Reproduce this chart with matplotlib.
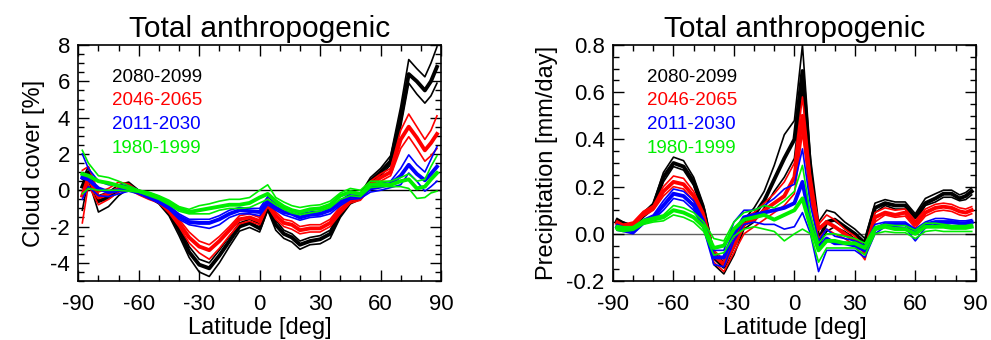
import matplotlib
matplotlib.use("Agg")
import matplotlib.pyplot as plt
from matplotlib.ticker import MultipleLocator, FormatStrFormatter

plt.rcParams['font.family'] = ['Liberation Sans', 'DejaVu Sans']
plt.rcParams['axes.unicode_minus'] = False

# ---------------- data ----------------
lat = [-88, -85, -80, -75, -70, -65, -60, -55, -50, -45, -40, -35, -30, -25, -20, -15, -10, -5, 0,
       4, 8, 12, 16, 20, 25, 30, 35, 40, 45, 50, 55, 60, 65, 70, 74, 78, 82, 85, 88]

periods = ["2080-2099", "2046-2065", "2011-2030", "1980-1999"]
colors = ["black", "#ff0000", "#0000ff", "#00ee00"]

# Cloud cover change [%]
cc_k_mid = [0.2, 1.0, -0.6, -0.4, 0.0, 0.3, -0.1, -0.3, -0.6, -1.2, -2.2, -3.4, -4.1, -4.3, -3.6, -2.8, -2.0, -1.8, -2.1,
            -0.9, -1.9, -2.4, -2.6, -3.0, -2.8, -2.7, -2.4, -1.3, -0.6, -0.35, 0.5, 1.0, 1.6, 4.0, 6.4, 6.0, 5.5, 6.0, 6.8]
cc_k_hi = [0.6, 1.3, -0.3, -0.1, 0.3, 0.45, 0.0, -0.2, -0.45, -1.0, -1.9, -3.1, -3.8, -4.0, -3.3, -2.55, -1.8, -1.6, -1.85,
           -0.7, -1.65, -2.2, -2.4, -2.8, -2.6, -2.5, -2.2, -1.1, -0.45, -0.2, 0.7, 1.2, 1.9, 4.6, 7.2, 6.7, 6.25, 7.0, 7.9]
cc_k_lo = [-1.1, 0.6, -1.2, -0.9, -0.3, 0.1, -0.2, -0.4, -0.75, -1.4, -2.5, -3.7, -4.5, -4.75, -4.0, -3.1, -2.25, -2.05, -2.3,
           -1.1, -2.2, -2.65, -2.85, -3.25, -3.0, -2.95, -2.65, -1.5, -0.75, -0.5, 0.3, 0.8, 1.4, 3.5, 5.9, 5.3, 4.8, 5.2, 5.9]

cc_r_mid = [-0.3, 0.7, -0.4, -0.2, 0.1, 0.2, -0.15, -0.4, -0.6, -1.1, -1.8, -2.6, -3.1, -3.3, -2.8, -2.2, -1.6, -1.5, -1.7,
            -0.7, -1.4, -1.8, -1.9, -2.2, -2.1, -2.1, -1.8, -1.1, -0.55, -0.4, 0.3, 0.7, 1.0, 2.8, 3.5, 2.9, 2.2, 2.6, 3.1]
cc_r_hi = [1.1, 1.3, -0.1, 0.1, 0.45, 0.35, -0.05, -0.3, -0.5, -1.0, -1.6, -2.3, -2.8, -3.0, -2.55, -2.0, -1.4, -1.3, -1.5,
           -0.45, -1.2, -1.6, -1.7, -2.0, -1.9, -1.9, -1.6, -0.9, -0.4, -0.25, 0.5, 0.9, 1.2, 3.3, 4.2, 3.5, 2.8, 3.3, 4.1]
cc_r_lo = [-1.8, 0.3, -0.8, -0.5, -0.1, 0.05, -0.25, -0.5, -0.7, -1.25, -2.0, -2.9, -3.45, -3.8, -3.2, -2.5, -1.85, -1.7, -1.9,
           -0.9, -1.6, -2.0, -2.15, -2.4, -2.3, -2.3, -2.0, -1.3, -0.7, -0.55, 0.1, 0.5, 0.8, 2.3, 2.95, 2.3, 1.6, 1.9, 2.3]

cc_b_mid = [0.7, 0.6, 0.1, -0.1, 0.0, 0.1, -0.1, -0.35, -0.6, -0.95, -1.45, -1.75, -1.8, -1.8, -1.6, -1.3, -1.1, -1.15, -1.2,
            -0.6, -0.95, -1.2, -1.3, -1.5, -1.35, -1.3, -1.1, -0.7, -0.35, -0.3, 0.1, 0.2, 0.35, 0.8, 1.4, 0.9, 0.55, 0.9, 1.3]
cc_b_hi = [2.0, 1.2, 0.5, 0.3, 0.3, 0.25, 0.0, -0.25, -0.5, -0.85, -1.3, -1.6, -1.6, -1.6, -1.4, -1.1, -0.95, -1.0, -1.0,
           -0.35, -0.75, -1.0, -1.1, -1.3, -1.2, -1.15, -0.95, -0.55, -0.2, -0.15, 0.3, 0.4, 0.5, 1.2, 1.95, 1.4, 1.0, 1.7, 2.4]
cc_b_lo = [-0.5, 0.2, -0.3, -0.35, -0.2, -0.05, -0.2, -0.45, -0.7, -1.05, -1.6, -1.9, -2.0, -2.1, -1.9, -1.5, -1.3, -1.3, -1.4,
           -0.8, -1.1, -1.35, -1.5, -1.65, -1.5, -1.45, -1.3, -0.85, -0.5, -0.45, -0.1, 0.0, 0.15, 0.3, 0.95, 0.5, -0.05, 0.2, 0.5]

cc_g_mid = [0.9, 0.8, 0.5, 0.4, 0.25, 0.1, -0.05, -0.2, -0.4, -0.7, -1.0, -1.2, -1.1, -1.0, -0.9, -0.8, -0.8, -0.7, -0.4,
            -0.2, -0.6, -0.9, -1.1, -1.2, -1.05, -1.0, -0.8, -0.3, -0.1, -0.2, 0.3, 0.35, 0.3, 0.5, 0.6, 0.1, 0.2, 0.6, 0.95]
cc_g_hi = [2.2, 1.5, 0.8, 0.7, 0.5, 0.25, 0.0, -0.1, -0.3, -0.55, -0.9, -1.05, -0.85, -0.75, -0.6, -0.5, -0.5, -0.4, 0.0,
           0.3, -0.4, -0.65, -0.85, -0.95, -0.85, -0.8, -0.6, -0.15, 0.1, 0.0, 0.5, 0.5, 0.5, 0.7, 0.9, 0.5, 0.6, 1.3, 1.9]
cc_g_lo = [-0.2, 0.1, 0.0, 0.0, 0.0, -0.05, -0.1, -0.3, -0.5, -0.8, -1.15, -1.3, -1.3, -1.3, -1.1, -1.0, -1.0, -0.95, -0.7,
           -0.5, -0.8, -1.05, -1.25, -1.35, -1.25, -1.15, -0.95, -0.5, -0.3, -0.35, 0.15, 0.2, 0.2, 0.2, 0.1, -0.45, -0.4, -0.15, -0.05]

# Precipitation change [mm/day]
pr_k_mid = [0.055, 0.045, 0.03, 0.08, 0.12, 0.24, 0.30, 0.285, 0.22, 0.10, -0.10, -0.14, -0.05, 0.04, 0.08, 0.14, 0.23, 0.32, 0.40,
            0.69, 0.26, -0.03, 0.05, 0.06, 0.03, 0.0, -0.04, 0.11, 0.13, 0.12, 0.12, 0.07, 0.13, 0.15, 0.17, 0.17, 0.15, 0.16, 0.18]
pr_k_hi = [0.065, 0.05, 0.035, 0.09, 0.13, 0.26, 0.325, 0.31, 0.24, 0.12, -0.08, -0.12, -0.03, 0.06, 0.11, 0.18, 0.29, 0.42, 0.48,
           0.80, 0.32, 0.05, 0.10, 0.09, 0.05, 0.02, -0.02, 0.13, 0.145, 0.135, 0.135, 0.085, 0.15, 0.17, 0.185, 0.185, 0.165, 0.175, 0.195]
pr_k_lo = [0.045, 0.035, 0.025, 0.07, 0.105, 0.22, 0.285, 0.27, 0.205, 0.08, -0.13, -0.17, -0.09, 0.02, 0.05, 0.11, 0.18, 0.24, 0.32,
           0.62, 0.20, -0.05, 0.01, 0.03, 0.01, -0.02, -0.06, 0.09, 0.12, 0.105, 0.105, 0.05, 0.12, 0.135, 0.155, 0.155, 0.14, 0.145, 0.165]

pr_r_mid = [0.045, 0.035, 0.04, 0.085, 0.11, 0.18, 0.22, 0.21, 0.16, 0.07, -0.09, -0.13, -0.05, 0.04, 0.06, 0.10, 0.13, 0.16, 0.24,
            0.50, 0.20, 0.02, 0.05, 0.03, 0.0, -0.03, -0.08, 0.07, 0.09, 0.08, 0.09, 0.04, 0.09, 0.11, 0.115, 0.11, 0.095, 0.09, 0.10]
pr_r_hi = [0.055, 0.04, 0.05, 0.095, 0.12, 0.20, 0.245, 0.235, 0.18, 0.09, -0.07, -0.11, -0.03, 0.07, 0.09, 0.13, 0.17, 0.22, 0.30,
           0.58, 0.25, 0.04, 0.08, 0.06, 0.02, -0.01, -0.06, 0.09, 0.11, 0.10, 0.105, 0.055, 0.105, 0.125, 0.13, 0.125, 0.11, 0.105, 0.115]
pr_r_lo = [0.035, 0.03, 0.03, 0.075, 0.10, 0.16, 0.20, 0.19, 0.14, 0.05, -0.12, -0.16, -0.08, 0.0, 0.03, 0.06, 0.09, 0.12, 0.17,
           0.43, 0.15, -0.02, 0.02, 0.0, -0.02, -0.05, -0.11, 0.05, 0.08, 0.07, 0.075, 0.025, 0.075, 0.095, 0.10, 0.095, 0.08, 0.075, 0.085]

pr_b_mid = [0.03, 0.02, 0.01, 0.05, 0.07, 0.12, 0.17, 0.16, 0.12, 0.04, -0.10, -0.10, 0.0, 0.07, 0.08, 0.09, 0.10, 0.11, 0.13,
            0.22, 0.05, -0.06, -0.02, -0.04, -0.04, -0.05, -0.07, 0.02, 0.04, 0.04, 0.04, 0.01, 0.04, 0.05, 0.05, 0.05, 0.045, 0.045, 0.05]
pr_b_hi = [0.04, 0.03, 0.02, 0.06, 0.08, 0.14, 0.19, 0.18, 0.14, 0.06, -0.07, -0.07, 0.05, 0.10, 0.10, 0.12, 0.15, 0.19, 0.21,
           0.36, 0.12, -0.03, 0.02, -0.01, -0.02, -0.03, -0.05, 0.04, 0.05, 0.05, 0.05, 0.02, 0.05, 0.065, 0.065, 0.06, 0.055, 0.055, 0.06]
pr_b_lo = [0.015, 0.01, 0.0, 0.04, 0.06, 0.10, 0.15, 0.14, 0.10, 0.02, -0.13, -0.14, -0.03, 0.04, 0.05, 0.04, 0.04, 0.02, 0.03,
           0.09, 0.0, -0.16, -0.07, -0.07, -0.07, -0.07, -0.10, 0.0, 0.03, 0.03, 0.025, -0.03, 0.025, 0.04, 0.04, 0.035, 0.035, 0.035, 0.04]

pr_g_mid = [0.025, 0.02, 0.025, 0.05, 0.06, 0.07, 0.10, 0.09, 0.07, 0.03, -0.06, -0.05, 0.02, 0.06, 0.07, 0.08, 0.06, 0.08, 0.10,
            0.15, 0.03, -0.07, -0.03, -0.03, -0.04, -0.04, -0.06, 0.02, 0.03, 0.02, 0.02, 0.0, 0.03, 0.03, 0.03, 0.025, 0.025, 0.025, 0.03]
pr_g_hi = [0.035, 0.03, 0.03, 0.06, 0.07, 0.08, 0.12, 0.11, 0.09, 0.05, -0.02, -0.03, 0.05, 0.09, 0.10, 0.12, 0.11, 0.14, 0.18,
           0.29, 0.08, -0.04, 0.0, 0.0, -0.01, -0.02, -0.04, 0.03, 0.04, 0.035, 0.035, 0.015, 0.045, 0.045, 0.04, 0.035, 0.035, 0.035, 0.04]
pr_g_lo = [0.015, 0.01, 0.015, 0.04, 0.05, 0.055, 0.08, 0.07, 0.05, 0.01, -0.09, -0.08, -0.01, 0.02, 0.03, 0.02, 0.01, -0.03, 0.0,
           0.02, 0.0, -0.12, -0.06, -0.06, -0.06, -0.06, -0.09, 0.0, 0.01, 0.005, 0.005, -0.02, 0.01, 0.015, 0.01, 0.01, 0.01, 0.01, 0.01]

cloud_sets = [(cc_k_hi, cc_k_mid, cc_k_lo), (cc_r_hi, cc_r_mid, cc_r_lo),
              (cc_b_hi, cc_b_mid, cc_b_lo), (cc_g_hi, cc_g_mid, cc_g_lo)]
precip_sets = [(pr_k_hi, pr_k_mid, pr_k_lo), (pr_r_hi, pr_r_mid, pr_r_lo),
               (pr_b_hi, pr_b_mid, pr_b_lo), (pr_g_hi, pr_g_mid, pr_g_lo)]

# ---------------- figure ----------------
fig = plt.figure(figsize=(9.91, 3.40), dpi=100)
ax1 = fig.add_axes([0.079, 0.1735, 0.366, 0.694])
ax2 = fig.add_axes([0.6186, 0.1735, 0.366, 0.694])


def draw(ax, sets, ylim, ymaj, ymin, ylabel, zcolor, ylpad):
    ax.axhline(0, color=zcolor, lw=1.0, zorder=1)
    for (hi, mid, lo), c in zip(sets, colors):
        ax.plot(lat, hi, color=c, lw=1.2, zorder=2)
        ax.plot(lat, lo, color=c, lw=1.2, zorder=2)
        ax.plot(lat, mid, color=c, lw=2.8, zorder=2)
    ax.set_xlim(-90, 90)
    ax.set_ylim(*ylim)
    ax.xaxis.set_major_locator(MultipleLocator(30))
    ax.xaxis.set_minor_locator(MultipleLocator(10))
    ax.yaxis.set_major_locator(MultipleLocator(ymaj))
    ax.yaxis.set_minor_locator(MultipleLocator(ymin))
    ax.tick_params(which='both', direction='in', top=True, right=True, width=1.0)
    ax.tick_params(which='major', length=8, labelsize=16)
    ax.tick_params(which='minor', length=4)
    ax.tick_params(axis='x', which='major', pad=9)
    ax.tick_params(axis='y', which='major', pad=6)
    for s in ax.spines.values():
        s.set_linewidth(1.2)
    ax.set_title("Total anthropogenic", fontsize=21.5, pad=6)
    ax.set_xlabel("Latitude [deg]", fontsize=17, labelpad=2)
    ax.set_ylabel(ylabel, fontsize=17, labelpad=ylpad)
    for i, (p, c) in enumerate(zip(periods, colors)):
        ax.text(0.093, 0.864 - i * 0.1005, p, color=c, fontsize=13.5,
                transform=ax.transAxes, va='center', ha='left')


draw(ax1, cloud_sets, (-5, 8), 2, 0.5, "Cloud cover [%]", "black", 4)
draw(ax2, precip_sets, (-0.2, 0.8), 0.2, 0.05, "Precipitation [mm/day]", "#606060", 6)
ax2.yaxis.set_major_formatter(FormatStrFormatter('%.1f'))

fig.savefig("out.png", dpi=100)
